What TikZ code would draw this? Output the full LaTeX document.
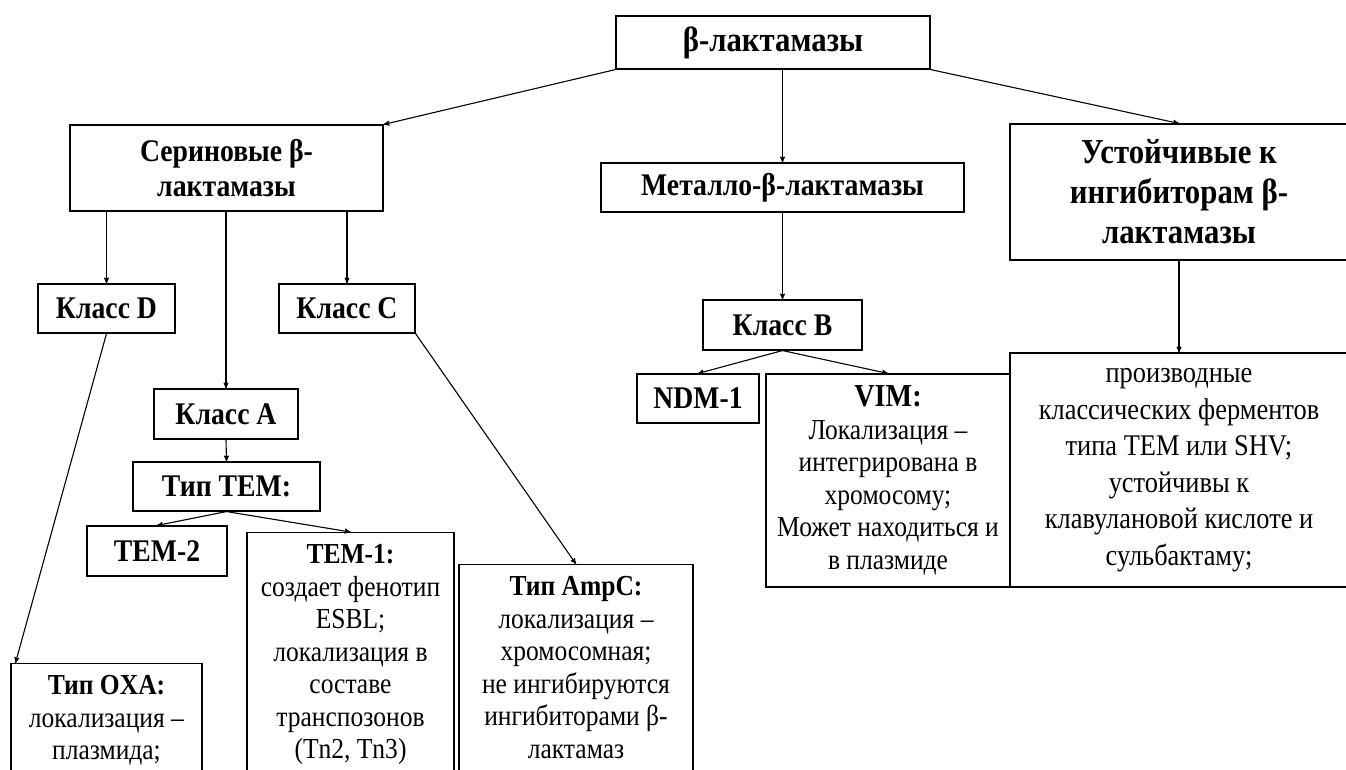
\documentclass[tikz,border=0pt]{standalone}
\usepackage{fontspec}
\setmainfont{Liberation Serif}[FakeStretch=0.88]
\usetikzlibrary{arrows}

\newcommand{\txt}{\fontsize{29}{32.5}\selectfont}
\newcommand{\hdtxt}{\fontsize{31.5}{35}\selectfont\bfseries}

\begin{document}
\begin{tikzpicture}[->,>=stealth',x=1pt,y=-1pt,line width=1.1pt,
  box/.style={draw,rectangle,align=center,inner sep=0pt,font=\txt},
  head node/.style={box,font=\hdtxt},
  long node/.style={box,anchor=north,inner ysep=12pt,text depth=200pt}]

  \useasboundingbox (0,0) rectangle (1346,769);
  \clip (0,0) rectangle (1346,769);

  \node[head node,minimum width=314pt,minimum height=53pt,font=\fontsize{35}{40}\selectfont\bfseries] (lact) at (773,42.5) {β-лактамазы};
  \node[head node,minimum width=313pt,minimum height=86pt] (ser) at (226.5,168) {Сериновые β-\\лактамазы};
  \node[head node,minimum width=363pt,minimum height=49pt] (met) at (782.5,187.5) {Металло-β-лактамазы};
  \node[head node,minimum width=338pt,minimum height=136pt,font=\fontsize{35}{40}\selectfont\bfseries] (ust) at (1179,192) {Устойчивые к\\ингибиторам β-\\лактамазы};

  \node[head node,minimum width=137pt,minimum height=49pt] (kD) at (106.5,308.5) {Класс D};
  \node[head node,minimum width=136pt,minimum height=49pt] (kC) at (347,308.5) {Класс C};
  \node[head node,minimum width=144pt,minimum height=50pt] (kA) at (226,414) {Класс A};
  \node[head node,minimum width=187pt,minimum height=49pt] (tem) at (226.5,486.5) {Тип TEM:};
  \node[head node,minimum width=140pt,minimum height=50pt] (tem2) at (157,551) {TEM-2};
  \node[head node,minimum width=159pt,minimum height=50pt] (kB) at (782.5,325) {Класс B};
  \node[head node,minimum width=122pt,minimum height=49pt] (ndm) at (698,398.5) {NDM-1};

  \node[box,minimum width=244pt,minimum height=213pt] (vim) at (888,480.5)
    {\textbf{\fontsize{32}{34}\selectfont VIM:}\\Локализация –\\интегрирована в\\хромосому;\\Может находиться и\\в плазмиде};
  \node[box,minimum width=338pt,minimum height=234pt,font=\fontsize{30}{36.5}\selectfont] (prod) at (1179,470)
    {производные\\классических ферментов\\типа TEM или SHV;\\устойчивы к\\клавулановой кислоте и\\сульбактаму;};

  \node[long node,minimum width=207pt] (tem1) at (350.5,532)
    {\textbf{TEM-1:}\\создает фенотип\\ESBL;\\локализация в\\составе\\транспозонов\\(Tn2, Tn3)};
  \node[long node,minimum width=234pt] (ampc) at (576,564)
    {\textbf{Тип AmpC:}\\локализация –\\хромосомная;\\не ингибируются\\ингибиторами β-\\лактамаз};
  \node[long node,minimum width=191pt] (oxa) at (106.5,663)
    {\textbf{Тип OXA:}\\локализация –\\плазмида;};

  \path
    (lact.south west) edge (ser.north east)
    (lact.south -| met.north) edge (met.north)
    (lact.south east) edge (ust.north)
    (ser.south -| kD.north) edge (kD.north)
    (ser.south -| kA.north) edge (kA.north)
    (ser.south -| kC.north) edge (kC.north)
    (kD.south) edge ([xshift=5pt]oxa.north west)
    (kC.south east) edge (ampc.north)
    (kA.south) edge (tem.north)
    (tem.south) edge (tem2.north)
    (tem.south) edge (tem1.north)
    (met.south) edge (kB.north)
    (kB.south) edge (ndm.north)
    (kB.south) edge (vim.north)
    (ust.south -| prod.north) edge (prod.north);
\end{tikzpicture}
\end{document}
